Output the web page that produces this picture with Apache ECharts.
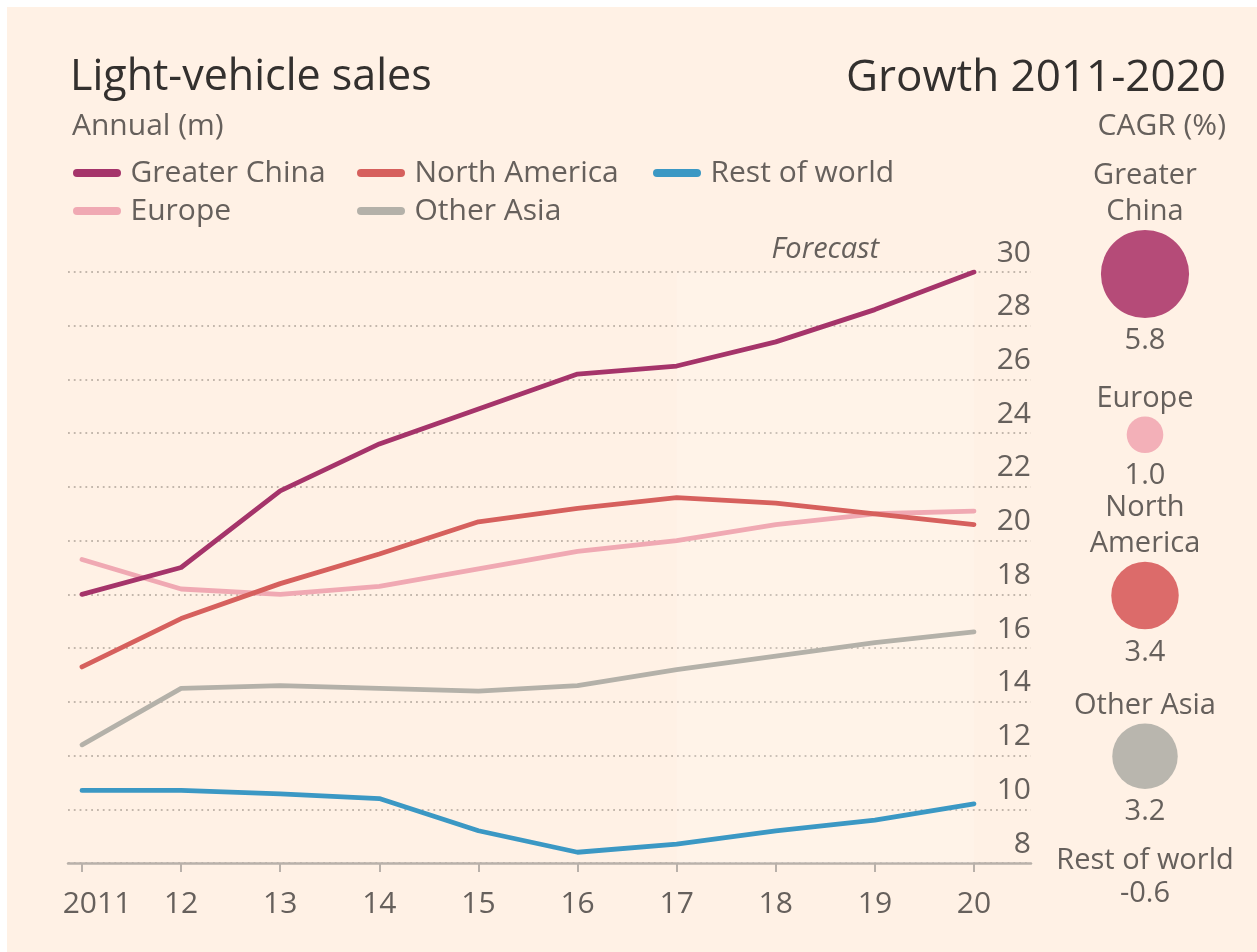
<!DOCTYPE html>
<html>
<head>
<meta charset="utf-8">
<script src="https://cdn.jsdelivr.net/npm/echarts@6/dist/echarts.min.js"></script>
<style>
  html, body { margin: 0; padding: 0; background: #ffffff; }
  #chart { position: absolute; left: 7px; top: 7px; width: 1250px; height: 945px; background: #fff1e5; }
</style>
</head>
<body>
<div id="chart"></div>
<script>
// ---------- data ----------
const years = [2011, 2012, 2013, 2014, 2015, 2016, 2017, 2018, 2019, 2020];
const yearLabels = ['2011', '12', '13', '14', '15', '16', '17', '18', '19', '20'];
const greaterChina = [18.0, 19.0, 21.85, 23.6, 24.9, 26.2, 26.5, 27.4, 28.6, 30.0];
const northAmerica = [15.3, 17.1, 18.4, 19.5, 20.7, 21.2, 21.6, 21.4, 21.0, 20.6];
const europe = [19.3, 18.2, 18.0, 18.3, 18.95, 19.6, 20.0, 20.6, 21.0, 21.1];
const otherAsia = [12.4, 14.5, 14.6, 14.5, 14.4, 14.6, 15.2, 15.7, 16.2, 16.6];
const restOfWorld = [10.7, 10.7, 10.57, 10.4, 9.2, 8.4, 8.7, 9.2, 9.6, 10.2];
const forecastStart = 2017;
const forecastEnd = 2020;

const cagrRegions = ['Greater China', 'Europe', 'North America', 'Other Asia', 'Rest of world'];
const cagrLabels = ['Greater\nChina', 'Europe', 'North\nAmerica', 'Other Asia', 'Rest of world'];
const cagrValues = [5.8, 1.0, 3.4, 3.2, -0.6];

// ---------- styles ----------
const TEXT = '#66605c';
const TITLE = '#33302e';
const FONT = '"Open Sans", "Noto Sans", sans-serif';
const lineColors = {
  'Greater China': '#a5346a',
  'North America': '#d6605d',
  'Rest of world': '#3b98c4',
  'Europe': '#f0a9b3',
  'Other Asia': '#b4b1a9'
};
const bubbleColors = ['#b54b78', '#f3b0b8', '#dc6b6a', '#b9b6ae', '#3b98c4'];
const bubbleScale = 18.3; // radius per sqrt(%)

const pair = (arr) => years.map((y, i) => [y, arr[i]]);
const pxPerYear = 99.1;
const xMin = 2011 - 14 / pxPerYear;
const xMax = 2020 + 57 / pxPerYear;

function lineSeries(name, arr) {
  return {
    name: name,
    type: 'line',
    xAxisIndex: 0, yAxisIndex: 0,
    data: pair(arr),
    showSymbol: false,
    symbol: 'none',
    smooth: false,
    lineStyle: { width: 4.8, color: lineColors[name], cap: 'round', join: 'round' },
    itemStyle: { color: lineColors[name] },
    emphasis: { disabled: true },
    silent: true
  };
}

const legendIcon = 'path://M4,0 H44 A4,4 0 0 1 44,8 H4 A4,4 0 0 1 4,0 Z';
function legendAt(left, names) {
  return {
    data: names,
    left: left, top: 146,
    orient: 'vertical',
    icon: legendIcon,
    itemWidth: 49, itemHeight: 8,
    itemGap: 8,
    selectedMode: false,
    textStyle: { fontFamily: FONT, fontSize: 30, color: TEXT, lineHeight: 30, padding: [0, 0, 0, 4] }
  };
}

const chart = echarts.init(document.getElementById('chart'), null, { renderer: 'canvas' });

const bubbleData = cagrValues.map((v, i) => ({
  value: [0, i], name: cagrRegions[i]
}));
const bubbleSize = (val, p) => {
  const v = cagrValues[p.dataIndex];
  return v > 0 ? 2 * bubbleScale * Math.sqrt(v) : 0;
};

const option = {
  backgroundColor: '#fff1e5',
  animation: false,
  textStyle: { fontFamily: FONT },
  title: [
    { text: 'Light-vehicle sales', left: 58, top: 44, textStyle: { fontFamily: FONT, fontSize: 43, fontWeight: 'normal', color: TITLE } },
    { text: 'Annual (m)', left: 60, top: 99, textStyle: { fontFamily: FONT, fontSize: 30, fontWeight: 'normal', color: TEXT } },
    { text: 'Growth 2011-2020', right: 26, top: 44, textStyle: { fontFamily: FONT, fontSize: 44, fontWeight: 'normal', color: TITLE } },
    { text: 'CAGR (%)', right: 26, top: 99, textStyle: { fontFamily: FONT, fontSize: 30, fontWeight: 'normal', color: TEXT } }
  ],
  legend: [
    legendAt(61, ['Greater China', 'Europe']),
    legendAt(345, ['North America', 'Other Asia']),
    legendAt(641, ['Rest of world'])
  ],
  grid: [
    { left: 61, right: 226, top: 265, bottom: 89 },
    { left: 1093, width: 90, top: 267, bottom: 35 }
  ],
  xAxis: [
    {
      gridIndex: 0, type: 'value', min: xMin, max: xMax,
      axisLine: { show: true, lineStyle: { color: '#b9b1aa', width: 2.5 } },
      axisTick: { show: true, customValues: years, length: 9, lineStyle: { color: '#b9b1aa', width: 2 } },
      axisLabel: {
        customValues: years,
        margin: 26,
        fontFamily: FONT, fontSize: 30, color: TEXT,
        formatter: (v) => {
          const i = years.indexOf(Math.round(v));
          return i === 0 ? '{first|' + yearLabels[i] + '}' : yearLabels[i];
        },
        rich: { first: { fontFamily: FONT, fontSize: 30, color: TEXT, padding: [0, 0, 0, 30] } }
      },
      splitLine: { show: false }
    },
    { gridIndex: 1, type: 'value', min: -1, max: 1, show: false }
  ],
  yAxis: [
    {
      gridIndex: 0, type: 'value', min: 8, max: 30, interval: 2,
      position: 'right',
      axisLine: { show: false }, axisTick: { show: false },
      axisLabel: {
        inside: true, margin: 0, fontFamily: FONT, fontSize: 30, color: TEXT,
        verticalAlign: 'bottom', padding: [0, 0, 4, 0]
      },
      splitLine: { show: true, lineStyle: { color: '#c3b7ac', width: 1.8, type: [1.8, 4] } }
    },
    {
      gridIndex: 1, type: 'category', data: cagrRegions, inverse: true, boundaryGap: false, show: false
    }
  ],
  series: [
    lineSeries('Rest of world', restOfWorld),
    lineSeries('Other Asia', otherAsia),
    lineSeries('Europe', europe),
    lineSeries('North America', northAmerica),
    {
      ...lineSeries('Greater China', greaterChina),
      markArea: {
        silent: true,
        itemStyle: { color: 'rgba(255,255,255,0.14)' },
        label: {
          show: true, position: 'top', distance: 8,
          fontFamily: FONT, fontSize: 29, fontStyle: 'italic', color: TEXT
        },
        data: [[{ name: 'Forecast', xAxis: forecastStart, yAxis: 30 }, { xAxis: forecastEnd, yAxis: 8 }]]
      }
    },
    {
      name: 'CAGR bubbles',
      type: 'scatter',
      xAxisIndex: 1, yAxisIndex: 1,
      silent: true,
      data: bubbleData.map((d, i) => ({
        ...d,
        itemStyle: { color: bubbleColors[i], opacity: 1 },
        label: cagrValues[i] <= 0 ? { offset: [0, -46] } : undefined
      })),
      symbolSize: bubbleSize,
      label: {
        show: true, position: 'bottom', distance: 8,
        fontFamily: FONT, fontSize: 29, color: TEXT, lineHeight: 30,
        formatter: (p) => cagrValues[p.dataIndex].toFixed(1)
      },
      z: 3
    },
    {
      name: 'CAGR names',
      type: 'scatter',
      xAxisIndex: 1, yAxisIndex: 1,
      silent: true,
      data: bubbleData.map((d, i) => ({
        ...d,
        itemStyle: { color: 'rgba(0,0,0,0)', opacity: 1 },
        label: cagrValues[i] <= 0 ? { offset: [0, -38] } : undefined
      })),
      symbolSize: bubbleSize,
      label: {
        show: true, position: 'top', distance: 0, color: TEXT,
        fontFamily: FONT, fontSize: 29, lineHeight: 36,
        formatter: (p) => cagrLabels[p.dataIndex]
      },
      z: 4
    }
  ]
};
chart.setOption(option);
</script>
</body>
</html>
